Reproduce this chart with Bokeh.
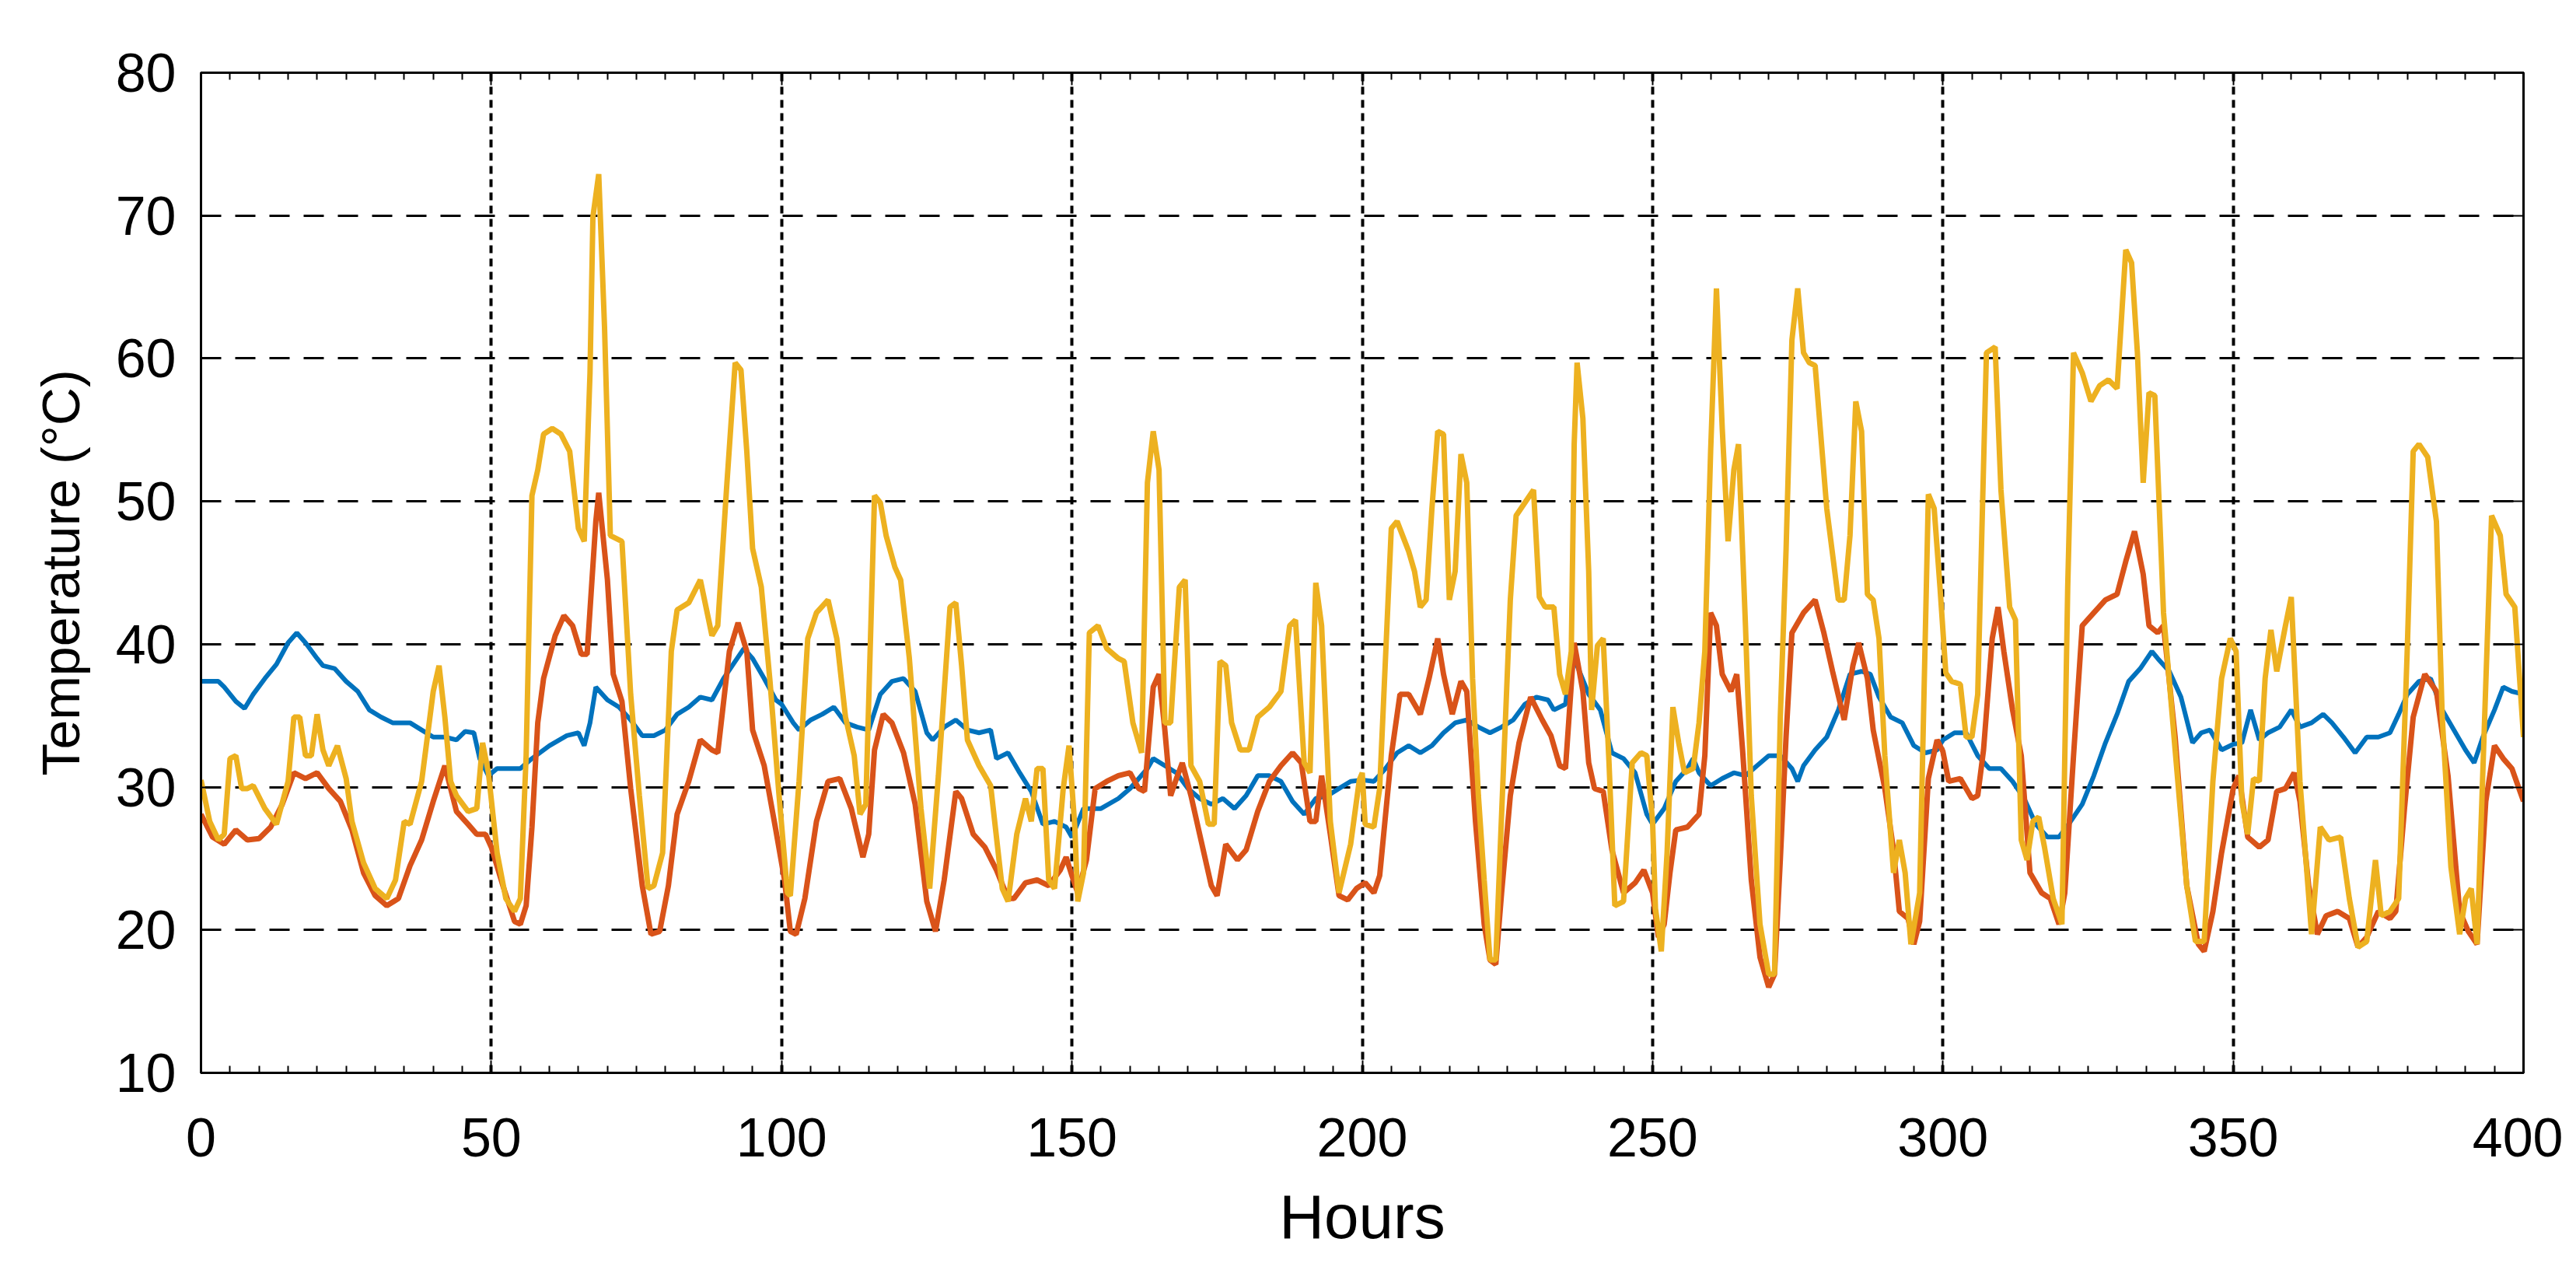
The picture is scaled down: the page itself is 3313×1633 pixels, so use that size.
from bokeh.plotting import figure
from bokeh.models import FixedTicker, LinearAxis, CustomJSTickFormatter
from bokeh.embed import file_html
from bokeh.resources import INLINE

# hours (x) and temperature (degC) per series
blue_hours = [0, 3, 4, 6, 7.5, 9, 11, 13, 15, 16.5, 18, 20, 21, 23, 25, 27, 29, 31, 33, 36, 38, 40, 42, 44, 45.5, 47, 48, 49.5,
              51, 55, 57, 60, 63, 65, 66, 67, 68, 70, 72, 74, 76, 78, 80, 82, 84, 86, 88, 90, 92, 93.5, 95, 97, 99,
              100, 102, 103, 105, 107, 109, 111, 113, 115, 117, 119, 121, 123, 125, 126, 128, 130, 132, 134, 136, 137, 139,
              141, 143, 145, 147, 149, 150, 152, 155, 158, 160, 163, 164, 166, 168, 170, 172, 174, 176, 178, 180, 182, 184,
              186, 188, 190, 192, 194, 196, 198, 200, 202, 204, 206, 208, 210, 212, 214, 216, 218, 220, 222, 224, 226, 228,
              230, 232, 233, 235, 236, 237, 239, 241, 243, 245, 247, 249, 250, 252, 254, 256, 257, 258, 260, 262, 264, 266,
              268, 270, 272, 274, 275, 276, 278, 280, 282, 284, 286, 287.5, 289, 291, 293, 295, 297, 299, 300, 302, 304, 306,
              308, 310, 312, 314, 316, 318, 320, 322, 324, 326, 328, 330, 332, 334, 336, 337, 339, 341, 343, 344.5, 346, 348,
              350, 351.5, 353, 354.5, 356, 358, 360, 361.5, 363.5, 365.5, 367, 369, 371, 373, 375, 377, 378.5, 380, 382, 384,
              386, 388, 390, 391.5, 393, 395, 396.5, 398, 400]
blue_temp = [37.4, 37.4, 37.0, 36.0, 35.5, 36.5, 37.6, 38.6, 40.1, 40.8, 40.1, 39.0, 38.5, 38.3, 37.4, 36.7, 35.4, 34.9, 34.5, 34.5, 34.0, 33.5, 33.5, 33.3, 33.9, 33.8, 32.0, 30.8,
             31.3, 31.3, 32.0, 32.9, 33.6, 33.8, 32.9, 34.5, 37.0, 36.1, 35.6, 34.7, 33.6, 33.6, 34.0, 35.1, 35.6, 36.3, 36.1, 37.6, 38.8, 39.7, 39.0, 37.6, 36.1,
             35.8, 34.5, 34.0, 34.7, 35.1, 35.6, 34.5, 34.2, 34.0, 36.5, 37.4, 37.6, 36.7, 33.8, 33.3, 34.2, 34.7, 34.0, 33.8, 34.0, 32.0, 32.4,
             31.0, 29.7, 27.4, 27.6, 27.2, 26.5, 28.5, 28.5, 29.2, 29.9, 31.3, 32.0, 31.5, 31.0, 29.9, 29.2, 28.8, 29.2, 28.5, 29.4, 30.8, 30.8,
             30.4, 29.0, 28.1, 29.2, 29.4, 29.9, 30.4, 30.5, 30.4, 31.3, 32.4, 32.9, 32.4, 32.9, 33.8, 34.5, 34.7, 34.2, 33.8, 34.2, 34.7, 35.8,
             36.3, 36.1, 35.4, 35.8, 39.2, 38.5, 36.5, 35.4, 32.4, 32.0, 31.0, 28.1, 27.4, 28.5, 30.4, 31.3, 32.0, 31.0, 30.1, 30.6, 31.0, 30.8,
             31.5, 32.2, 32.2, 31.3, 30.4, 31.5, 32.6, 33.5, 35.4, 37.9, 38.1, 37.9, 36.3, 34.9, 34.5, 32.9, 32.4, 32.6, 33.3, 33.8, 33.8, 32.2,
             31.3, 31.3, 30.4, 29.2, 27.4, 26.5, 26.5, 27.6, 28.8, 30.8, 33.1, 35.1, 37.4, 38.3, 39.5, 39.0, 38.1, 36.3, 33.1, 33.8, 34.0, 32.6,
             33.0, 33.1, 35.4, 33.3, 33.8, 34.2, 35.4, 34.2, 34.5, 35.1, 34.5, 33.5, 32.4, 33.5, 33.5, 33.8, 35.1, 36.5, 37.4, 37.6,
             35.4, 34.0, 32.6, 31.7, 33.5, 35.4, 37.0, 36.7, 36.5]

red_hours = [0, 2, 4, 6, 8, 10, 12, 14, 16, 18, 20, 22, 24, 26, 28, 30, 32, 34, 36, 38, 40, 42, 43, 44, 46, 47.5, 49, 50,
             52, 54, 55, 56, 57, 58, 59, 61, 62.5, 64, 65.5, 66.5, 68, 68.5, 70, 71, 72.5, 74, 76, 77.5, 79, 80.5, 82, 84,
             86, 88, 89, 91, 92.5, 94, 95, 97, 99, 100.5, 101.5, 102.5, 104, 106, 108, 110, 112, 114, 115, 116, 117.5, 119,
             121, 123, 125, 126.5, 128, 130, 131, 133, 135, 137, 139, 140, 142, 144, 146, 148, 149, 150, 151, 152.5, 154,
             156, 158, 160, 161.5, 162.5, 164, 165, 166, 167, 168, 169, 170.5, 172, 174, 175, 176.5, 178.5, 180, 182, 184,
             186, 188, 189.5, 191, 192, 193, 194.5, 196, 197.5, 199, 200.5, 202, 203, 205, 206.5, 208, 210, 211.5, 213, 214,
             215.5, 217, 218, 219.5, 221, 222, 223, 224, 225.5, 227, 229, 231, 232.5, 234, 235, 236.5, 238, 239, 240, 241.5,
             243, 245, 247, 248.5, 250, 251, 252, 253, 254, 256, 258, 259, 260, 261, 262, 263.5, 264.5, 265.5, 267, 268.5,
             270, 271, 272, 273, 274, 276, 278, 279.5, 281, 283, 284.5, 285.5, 287, 288, 290, 291.5, 292.5, 294, 295, 296,
             297.5, 299, 300, 301, 303, 305, 306, 307, 308.5, 309.5, 310.5, 312, 313.5, 315, 317, 318.5, 320, 321, 322.5,
             324, 326, 328, 330, 331.5, 333, 334.5, 335.5, 337, 338, 340, 342, 344, 345, 346.5, 348, 350, 351, 352.5, 354.5,
             356, 357.5, 359, 360.5, 361.5, 363, 364.5, 366, 368, 370, 371.5, 373, 375, 377, 378, 379.5, 381, 383, 385, 387,
             389, 390.5, 392, 393.5, 395, 396.5, 398, 400]
red_temp = [28.1, 26.5, 26.0, 27.0, 26.3, 26.4, 27.2, 28.8, 31.0, 30.6, 31.0, 29.9, 29.0, 27.0, 24.0, 22.4, 21.7, 22.2, 24.5, 26.3, 29.0, 31.5, 29.9, 28.3, 27.4, 26.7, 26.7, 25.8,
            23.1, 20.6, 20.4, 21.7, 27.2, 34.5, 37.6, 40.6, 42.0, 41.3, 39.3, 39.3, 48.6, 50.6, 44.5, 37.9, 36.0, 29.9, 23.1, 19.7, 19.9, 23.1, 28.1, 30.4,
            33.3, 32.6, 32.4, 39.5, 41.5, 39.5, 34.0, 31.5, 27.0, 23.5, 19.9, 19.7, 22.2, 27.6, 30.4, 30.6, 28.5, 25.1, 26.7, 32.6, 35.1, 34.5,
            32.4, 28.8, 22.0, 19.9, 23.5, 29.7, 29.2, 26.7, 25.8, 24.2, 22.2, 22.2, 23.3, 23.5, 23.1, 24.2, 25.1, 23.8, 22.6, 24.9, 29.9,
            30.4, 30.8, 31.0, 29.9, 29.7, 37.0, 37.9, 34.0, 29.4, 30.6, 31.7, 29.4, 26.7, 23.1, 22.4, 26.0, 24.9, 25.6, 28.3, 30.4,
            31.5, 32.4, 31.7, 27.6, 27.6, 30.8, 26.7, 22.4, 22.1, 22.9, 23.3, 22.6, 23.8, 32.2, 36.5, 36.5, 35.1, 37.6, 40.4, 37.9,
            35.1, 37.4, 36.7, 27.6, 20.4, 17.9, 17.6, 22.6, 29.4, 33.1, 36.3, 34.7, 33.6, 31.5, 31.3, 40.1, 36.7, 31.7, 29.9, 29.7,
            25.6, 22.6, 23.3, 24.2, 22.6, 19.5, 20.4, 24.0, 27.0, 27.2, 28.1, 32.2, 42.2, 41.3, 37.9, 36.7, 37.9, 32.6, 23.5, 18.1,
            16.0, 16.9, 24.9, 33.6, 40.8, 42.2, 43.1, 40.8, 38.1, 34.7, 38.5, 40.1, 37.6, 34.0, 29.9, 25.6, 21.3, 20.8, 19.0, 20.6,
            30.6, 33.3, 32.5, 30.4, 30.6, 29.2, 29.4, 32.6, 40.4, 42.6, 39.5, 35.4, 32.2, 24.0, 22.6, 22.2, 20.4, 22.6, 32.2,
            41.3, 42.2, 43.1, 43.5, 45.8, 47.9, 44.9, 41.3, 40.8, 41.3, 33.5, 23.1, 19.0, 18.5, 21.3, 25.4, 29.9, 30.8, 26.5, 25.8,
            26.3, 29.7, 29.9, 31.0, 29.0, 23.1, 19.7, 21.0, 21.3, 20.8, 18.8, 19.5, 21.3, 20.8, 21.3, 28.5, 34.9, 37.9, 36.7, 30.8,
            21.3, 19.9, 19.0, 29.0, 32.9, 32.0, 31.3, 29.0]

yellow_hours = [0, 1.5, 3, 4, 5, 6, 7, 8, 9, 11, 13, 15, 16, 17, 18, 19, 20, 21, 22, 23.5, 25, 26, 28, 30, 32, 33.5, 35, 36,
                38, 40, 41, 42, 43, 44, 46, 47.5, 48.5, 49.5, 51, 52.5, 54, 55, 56, 57, 58, 59, 60.5, 62, 63.5, 65, 66, 67,
                67.5, 68.5, 69.5, 70.5, 72.5, 74, 75.5, 77, 78, 79.5, 81, 82, 84, 86, 88, 89, 90.5, 92, 93, 94, 95, 96.5, 98,
                99.5, 101, 101.5, 103, 104.5, 106, 108, 109.5, 111, 112.5, 113.5, 114.5, 116, 117, 118, 119.5, 120.5, 122,
                124, 125.5, 127, 129, 130, 131, 132, 134, 136, 138, 139, 140.5, 142, 143, 144, 145, 146, 147, 148.5, 149.5,
                150.5, 151, 152, 153, 154.5, 156, 158, 159, 160.5, 162, 163, 164, 165, 166, 167, 168.5, 169.5, 170.5, 172,
                173.5, 174.5, 175.5, 176.5, 177.5, 179, 180.5, 182, 184, 186, 187.5, 188.5, 190, 191, 192, 193, 194.5, 196,
                198, 199.5, 200, 200.5, 202, 203, 205, 206, 208, 209, 210, 211, 212, 213, 214, 215, 216, 217, 218, 219, 220,
                221, 222, 223, 224, 225.5, 226.5, 228, 229.5, 230.5, 231.5, 233, 234, 235, 236, 236.5, 237, 238, 239, 239.5,
                240.5, 241.5, 242.5, 243.5, 245, 246.5, 248, 249, 250, 250.5, 251.5, 252.5, 253.5, 254.5, 255.5, 257, 258,
                259, 260, 261, 262, 263, 264, 264.8, 266, 267, 268.5, 270, 271, 272, 273, 274, 275, 276, 277, 278, 280, 282,
                283, 284, 285, 286, 287, 288, 289, 290, 291.5, 292.5, 293.5, 294.5, 296, 297.5, 298.5, 299.5, 300.5, 301.5,
                303, 304, 305, 306, 307.5, 309, 310, 311.5, 312.5, 313.5, 314.5, 315.5, 316.5, 317.5, 319, 320.5, 321.5,
                322.5, 324, 325.5, 327, 328.5, 330, 331.5, 332.5, 333.5, 334.5, 335.5, 336.5, 338, 340, 342, 343.5, 345,
                346.5, 348, 349.5, 350.5, 351.5, 352.5, 353.5, 354.5, 355.5, 356.5, 357.5, 359, 360, 361.5, 363.5, 365,
                366.5, 368.5, 370, 371.5, 373, 374.5, 375.5, 377, 378.5, 380, 381, 382, 383.5, 385, 386, 387.5, 389, 390,
                391, 392, 393.5, 394.5, 396, 397, 398.5, 400]
yellow_temp = [30.5, 27.6, 26.3, 26.7, 32.0, 32.2, 29.9, 29.9, 30.1, 28.5, 27.4, 30.4, 34.9, 34.9, 32.2, 32.2, 35.1, 32.6, 31.5, 32.9, 30.6, 27.6, 24.7, 22.9, 22.2, 23.5, 27.6, 27.4,
               30.4, 36.7, 38.5, 34.9, 30.4, 29.4, 28.3, 28.5, 33.1, 31.0, 25.4, 22.2, 21.3, 22.2, 32.2, 50.4, 52.2, 54.7, 55.1, 54.7, 53.5, 48.1, 47.2, 59.0,
               69.9, 72.9, 62.2, 47.6, 47.2, 36.5, 29.4, 22.9, 23.1, 25.4, 39.5, 42.4, 42.9, 44.5, 40.6, 41.3, 50.8, 59.7, 59.2, 53.5, 46.7, 44.0, 37.4,
               29.7, 22.6, 22.4, 30.4, 40.4, 42.2, 43.1, 40.4, 34.9, 32.2, 28.1, 28.8, 50.4, 49.9, 47.6, 45.4, 44.5, 39.0,
               28.5, 22.9, 30.8, 42.6, 42.9, 38.5, 33.3, 31.5, 30.1, 22.9, 22.0, 26.7, 29.2, 27.6, 31.3, 31.3, 23.5, 22.9, 29.9, 32.9,
               27.2, 22.0, 24.0, 40.8, 41.3, 39.7, 39.0, 38.8, 34.5, 32.4, 51.3, 54.9, 52.2, 34.5, 34.5, 44.0, 44.5, 31.5, 30.4,
               27.4, 27.4, 38.8, 38.5, 34.5, 32.6, 32.6, 34.9, 35.6, 36.7, 41.3, 41.7, 31.7, 31.0, 44.3, 41.3, 27.6, 22.6,
               26.0, 30.5, 31.0, 27.4, 27.2, 29.9, 48.1, 48.6, 46.5, 45.1, 42.6, 43.1, 49.5, 54.9, 54.7, 43.1, 45.1, 53.3, 51.3, 37.6, 29.4,
               23.5, 17.9, 17.9, 28.1, 43.1, 49.0, 49.9, 50.8, 43.3, 42.6, 42.6, 37.9, 36.5, 39.5, 54.0, 59.7, 55.8, 45.1, 35.4,
               39.9, 40.4, 31.7, 21.7, 22.0, 31.7, 32.4, 32.2, 27.6, 21.5, 18.5, 25.4, 35.6, 33.1, 31.0, 31.3, 34.5,
               39.5, 53.5, 64.9, 55.1, 47.2, 52.2, 54.0, 41.3, 29.4, 20.4, 16.9, 16.9, 34.9, 46.7, 61.3, 64.9, 60.4, 59.7, 59.5, 49.5, 43.1,
               43.1, 47.6, 57.0, 54.9, 43.5, 43.1, 40.4, 32.2, 24.0, 26.3, 24.0, 19.0, 22.6, 50.5, 49.5, 44.0, 38.0, 37.4,
               37.2, 33.5, 33.5, 36.5, 60.4, 60.8, 50.8, 42.6, 41.7, 26.3, 24.9, 27.6, 27.9, 25.8, 22.2, 20.4, 44.0,
               60.4, 59.0, 57.0, 58.1, 58.5, 57.9, 67.6, 66.7, 60.4, 51.3, 57.6, 57.4, 42.2, 32.6, 23.1, 19.2, 19.2,
               30.4, 37.6, 40.4, 39.5, 29.0, 26.7, 30.6, 30.4, 37.6, 41.0, 38.1, 41.3, 43.3, 30.4, 19.7, 27.2,
               26.3, 26.5, 22.2, 18.8, 19.2, 24.9, 21.0, 21.3, 22.2, 39.9, 53.5, 54.0, 53.1, 48.6, 34.9, 24.4, 19.7, 22.2,
               22.9, 19.0, 37.2, 49.0, 47.6, 43.5, 42.6, 33.5]

x_ticks = [0, 50, 100, 150, 200, 250, 300, 350, 400]
y_ticks = [10, 20, 30, 40, 50, 60, 70, 80]

FONT = "Liberation Sans"

p = figure(width=3296, height=1616, x_range=(0, 400), y_range=(10, 80),
           output_backend="svg", toolbar_location=None,
           x_axis_label="Hours", y_axis_label="Temperature (\u00b0C)",
           min_border_left=258, min_border_right=51, min_border_top=93, min_border_bottom=237)

p.line(blue_hours, blue_temp, line_color="#0072BD", line_width=6)
p.line(red_hours, red_temp, line_color="#D95319", line_width=7)
p.line(yellow_hours, yellow_temp, line_color="#EDB120", line_width=7)

minor_x = [h for h in range(0, 401, 5) if h % 50]
x_ticker = FixedTicker(ticks=x_ticks, minor_ticks=minor_x)
y_ticker = FixedTicker(ticks=y_ticks)

p.add_layout(LinearAxis(ticker=x_ticker, formatter=CustomJSTickFormatter(code="return ''")), "above")
p.add_layout(LinearAxis(ticker=y_ticker, formatter=CustomJSTickFormatter(code="return ''")), "right")

p.xaxis.ticker = x_ticker
p.yaxis.ticker = y_ticker

for ax in p.xaxis + p.yaxis:
    ax.axis_line_color = "black"
    ax.axis_line_width = 3
    ax.major_tick_in = 16
    ax.major_tick_out = 0
    ax.minor_tick_in = 9
    ax.minor_tick_out = 0
    ax.major_tick_line_width = 2
    ax.minor_tick_line_width = 2
    ax.major_tick_line_color = "black"
    ax.minor_tick_line_color = "black"
    ax.major_label_text_font = FONT
    ax.major_label_text_font_size = "70px"
    ax.major_label_text_color = "black"
    ax.axis_label_text_font = FONT
    ax.axis_label_text_font_size = "80px"
    ax.axis_label_text_font_style = "normal"
    ax.axis_label_text_color = "black"

bottom_axis = p.below[0]
left_axis = p.left[0]
left_axis.axis_label_text_font_size = "68px"

bottom_axis.major_label_standoff = 58
bottom_axis.axis_label_standoff = 30
left_axis.major_label_standoff = 32
left_axis.axis_label_standoff = 30

p.xgrid.ticker = x_ticker
p.ygrid.ticker = y_ticker
p.xgrid.grid_line_color = "black"
p.xgrid.grid_line_width = 4
p.xgrid.grid_line_dash = "10 7"
p.ygrid.grid_line_color = "black"
p.ygrid.grid_line_width = 3
p.ygrid.grid_line_dash = "26 18"

p.outline_line_color = "black"
p.outline_line_width = 3

open("out.html", "w").write(file_html(p, INLINE))
